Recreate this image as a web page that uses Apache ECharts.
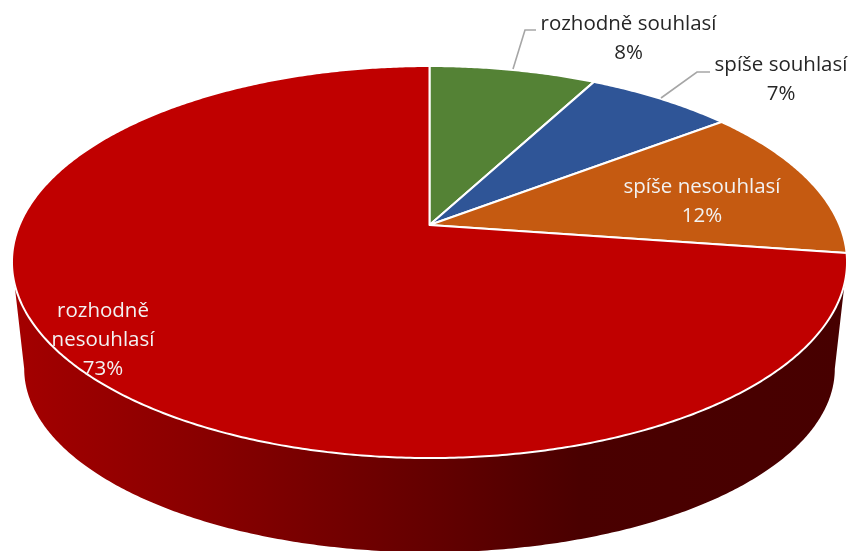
<!DOCTYPE html>
<html>
<head>
<meta charset="utf-8">
<style>html,body{margin:0;padding:0;background:#fff}#c{width:850px;height:551px}</style>
<script src="https://cdn.jsdelivr.net/npm/echarts@6/dist/echarts.min.js"></script>
</head>
<body>
<div id="c"></div>
<script>
// data
const categories = ['rozhodně souhlasí', 'spíše souhlasí', 'spíše nesouhlasí', 'rozhodně nesouhlasí'];
const shares = [7.75, 6.85, 12.7, 72.7];
const percentLabels = ['8%', '7%', '12%', '73%'];

// styles
const sliceColors = ['#548235', '#2F5597', '#C55A11', '#C00000'];
const labelColors = ['#262626', '#262626', '#F2F2F2', '#F2F2F2'];
const labelBreakAfterFirstWord = [false, false, false, true];

// layout
const labelAnchors = [[628.5, 38.5], [781, 79.5], [702, 201.5], [103, 340]];
const leaders = [[[513, 69], [525, 30], [536, 30]], [[661, 98], [697, 72], [710, 72]], null, null];
const topFace = { cx: 429.5, cy: 225, A: 410, B: 189 };
const baseFace = { cx: 429.5, cy: 334, A: 398, B: 177 };
const persp = 0.189;

function project(face, deg) {
  const t = deg * Math.PI / 180, u = Math.sin(t), v = Math.cos(t), w = 1 + persp * v;
  return [face.cx + face.A * u / w, face.cy - face.B * v / w];
}
function arc(face, a0, a1) {
  const pts = [], n = Math.max(2, Math.ceil(Math.abs(a1 - a0) * 2));
  for (let i = 0; i <= n; i++) pts.push(project(face, a0 + (a1 - a0) * i / n));
  return pts;
}
const total = shares.reduce((a, b) => a + b, 0);
const frontFrom = Math.acos(-persp) * 180 / Math.PI, frontTo = 360 - frontFrom;

function renderItem(params, api) {
  const i = params.dataIndex;
  const start = shares.slice(0, i).reduce((a, b) => a + b, 0) / total * 360;
  const end = start + api.value(0) / total * 360;
  const children = [];
  const a0 = Math.max(start, frontFrom), a1 = Math.min(end, frontTo);
  if (a1 > a0) {
    children.push({
      type: 'polygon', z2: 1,
      shape: { points: arc(topFace, a0, a1).concat(arc(baseFace, a1, a0)) },
      style: {
        fill: new echarts.graphic.LinearGradient(12, 0, 847, 0, [
          { offset: 0, color: '#A40000' },
          { offset: 0.25, color: '#860000' },
          { offset: 0.5, color: '#640000' },
          { offset: 0.68, color: '#4A0000' },
          { offset: 1, color: '#470000' }
        ], true)
      }
    });
  }
  children.push({
    type: 'polygon', z2: 2,
    shape: { points: [[topFace.cx, topFace.cy]].concat(arc(topFace, start, end)) },
    style: { fill: sliceColors[i], stroke: '#FFFFFF', lineWidth: 2, lineJoin: 'round' }
  });
  if (leaders[i]) {
    children.push({
      type: 'polyline', z2: 3,
      shape: { points: leaders[i] },
      style: { fill: null, stroke: '#A6A6A6', lineWidth: 1.6 }
    });
  }
  const name = labelBreakAfterFirstWord[i] ? categories[i].replace(' ', '\n') : categories[i];
  children.push({
    type: 'text', z2: 10,
    style: {
      text: name + '\n' + percentLabels[i],
      x: labelAnchors[i][0], y: labelAnchors[i][1],
      align: 'center', verticalAlign: 'middle',
      fill: labelColors[i], lineHeight: 29,
      font: '20.5px "Open Sans", sans-serif'
    }
  });
  return { type: 'group', children: children };
}

const chart = echarts.init(document.getElementById('c'), null, { renderer: 'canvas' });
chart.setOption({
  animation: false,
  backgroundColor: '#FFFFFF',
  series: [{
    type: 'custom',
    coordinateSystem: 'none',
    silent: true,
    renderItem: renderItem,
    data: shares.map((v, i) => ({ name: categories[i], value: [v] }))
  }]
});
</script>
</body>
</html>
